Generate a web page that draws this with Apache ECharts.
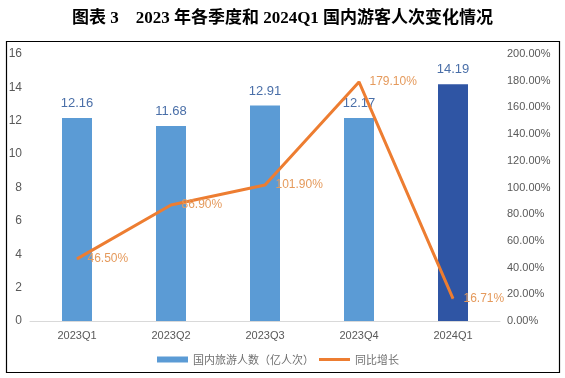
<!DOCTYPE html>
<html>
<head>
<meta charset="utf-8">
<script src="https://cdn.jsdelivr.net/npm/echarts@6/dist/echarts.min.js"></script>
<style>
html, body { margin: 0; padding: 0; background: #fff; }
#main { width: 565px; height: 378px; }
</style>
</head>
<body>
<div id="main"></div>
<script>
var quarters = ['2023Q1', '2023Q2', '2023Q3', '2023Q4', '2024Q1'];
var visitors = [12.16, 11.68, 12.91, 12.17, 14.19];
var growth = [0.465, 0.869, 1.019, 1.791, 0.1671];
var barColors = ['#5B9BD5', '#5B9BD5', '#5B9BD5', '#5B9BD5', '#2F55A4'];

var chart = echarts.init(document.getElementById('main'));

var option = {
	backgroundColor: '#fff',
	animation: false,
	title: {
		text: '图表 3    2023 年各季度和 2024Q1 国内游客人次变化情况',
		left: 'center',
		top: 5,
		textStyle: {
			fontFamily: '"Liberation Serif", "Noto Sans CJK SC", serif',
			fontSize: 17,
			fontWeight: 'bold',
			color: '#000'
		}
	},
	graphic: [{
		type: 'rect',
		shape: { x: 6.5, y: 41.5, width: 553, height: 331 },
		style: { fill: 'none', stroke: '#000', lineWidth: 1.2 },
		silent: true
	}],
	legend: {
		bottom: 8,
		left: 152,
		itemWidth: 31,
		itemHeight: 6,
		itemGap: 5,
		textStyle: { color: '#707070', fontSize: 11, fontFamily: '"Noto Sans CJK SC", sans-serif' },
		data: [
			{ name: '国内旅游人数（亿人次）', icon: 'rect' },
			{ name: '同比增长', icon: 'path://M0,0H31V3H0Z' }
		]
	},
	grid: { left: 30, right: 65, top: 54, bottom: 57 },
	xAxis: {
		type: 'category',
		data: quarters,
		axisTick: { show: false },
		axisLine: { lineStyle: { color: '#D9D9D9' } },
		axisLabel: { color: '#595959', fontSize: 11, margin: 9 }
	},
	yAxis: [{
		type: 'value',
		min: 0, max: 16, interval: 2,
		splitLine: { show: false },
		axisLabel: { color: '#595959', fontSize: 12, margin: 8 }
	}, {
		type: 'value',
		min: 0, max: 2, interval: 0.2,
		splitLine: { show: false },
		axisLabel: {
			color: '#595959', fontSize: 11, margin: 7,
			formatter: function (v) { return (v * 100).toFixed(2) + '%'; }
		}
	}],
	series: [{
		name: '国内旅游人数（亿人次）',
		type: 'bar',
		barWidth: 30,
		itemStyle: { color: '#5B9BD5' },
		data: visitors.map(function (v, i) {
			return { value: v, itemStyle: { color: barColors[i] } };
		}),
		label: {
			show: true, position: 'top', distance: 8,
			color: '#4A6FA8', fontSize: 13
		}
	}, {
		name: '同比增长',
		type: 'line',
		yAxisIndex: 1,
		symbol: 'circle',
		symbolSize: 1,
		showSymbol: true,
		lineStyle: { color: '#ED7D31', width: 3 },
		itemStyle: { color: '#ED7D31' },
		data: growth,
		label: {
			show: true, position: 'right', distance: 10,
			color: '#E59A5C', fontSize: 12,
			formatter: function (p) { return (p.value * 100).toFixed(2) + '%'; }
		}
	}]
};

chart.setOption(option);
</script>
</body>
</html>
